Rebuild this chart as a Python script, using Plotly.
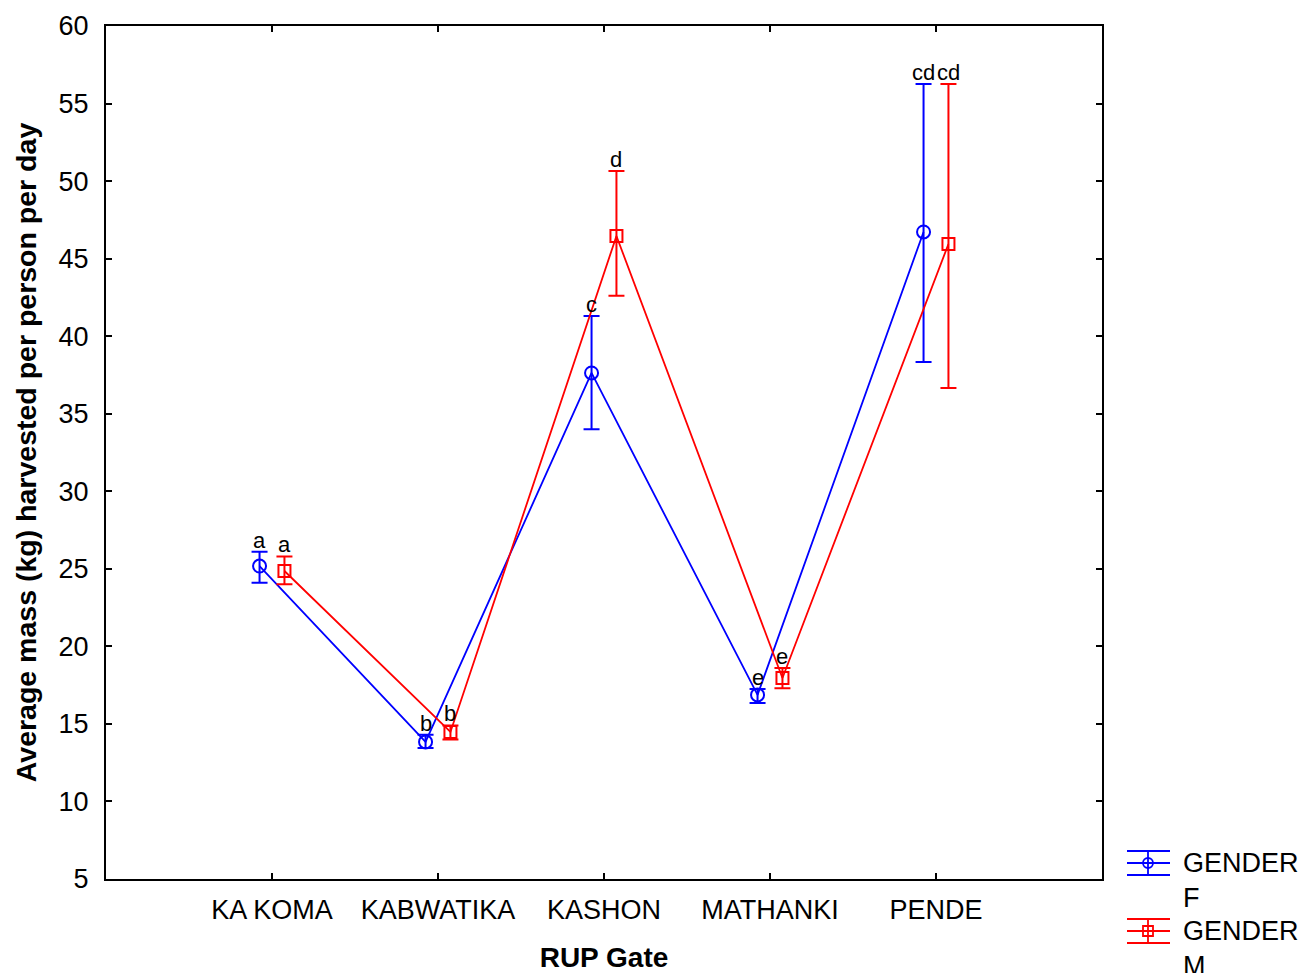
import plotly.graph_objects as go

categories = ["KA KOMA", "KABWATIKA", "KASHON", "MATHANKI", "PENDE"]
f_mean = [25.18, 13.84, 37.63, 16.87, 46.72]
f_upper = [26.1, 14.3, 41.3, 17.25, 56.26]
f_lower = [24.1, 13.45, 34.0, 16.35, 38.34]
m_mean = [24.86, 14.48, 46.46, 17.96, 45.94]
m_upper = [25.8, 14.9, 50.65, 18.6, 56.26]
m_lower = [24.0, 14.0, 42.6, 17.3, 36.66]
f_labels = ["a", "b", "c", "e", "cd"]
m_labels = ["a", "b", "d", "e", "cd"]
yticks = [5, 10, 15, 20, 25, 30, 35, 40, 45, 50, 55, 60]

FONT = "Liberation Sans, Arial, sans-serif"
BLUE = "#0000ff"
RED = "#ff0000"
off = 0.075
pos = list(range(1, len(categories) + 1))
fx = [p - off for p in pos]
mx = [p + off for p in pos]

fig = go.Figure()
fig.add_trace(go.Scatter(
    x=fx, y=f_mean, mode="lines+markers", name="GENDER F",
    line=dict(color=BLUE, width=1.8),
    marker=dict(symbol="circle-open", size=13, color=BLUE, line=dict(width=2)),
    error_y=dict(type="data", symmetric=False,
                 array=[u - m for u, m in zip(f_upper, f_mean)],
                 arrayminus=[m - l for l, m in zip(f_lower, f_mean)],
                 color=BLUE, thickness=2, width=8),
    showlegend=False))
fig.add_trace(go.Scatter(
    x=mx, y=m_mean, mode="lines+markers", name="GENDER M",
    line=dict(color=RED, width=1.8),
    marker=dict(symbol="square-open", size=12, color=RED, line=dict(width=2)),
    error_y=dict(type="data", symmetric=False,
                 array=[u - m for u, m in zip(m_upper, m_mean)],
                 arrayminus=[m - l for l, m in zip(m_lower, m_mean)],
                 color=RED, thickness=2, width=8),
    showlegend=False))

annotations = []
for xs, ys, ts in [(fx, f_upper, f_labels), (mx, m_upper, m_labels)]:
    for x, y, t in zip(xs, ys, ts):
        annotations.append(dict(x=x, y=y, text=t, showarrow=False, yanchor="bottom",
                                yshift=-2, borderpad=0,
                                font=dict(family=FONT, size=22, color="black")))

FW, FH = 1303, 973
ML, MR, MT, MB = 106, 201, 26, 94
W = FW - ML - MR
H = FH - MT - MB

def px(x):
    return (x - ML) / W

def py(y):
    return (MT + H - y) / H

shapes = []
for yc, col, sym in [(863, BLUE, "circle"), (931, RED, "rect")]:
    for dy in (-12, 0, 12):
        shapes.append(dict(type="line", xref="paper", yref="paper",
                           x0=px(1127), x1=px(1170), y0=py(yc + dy), y1=py(yc + dy),
                           line=dict(color=col, width=1.8)))
    shapes.append(dict(type="line", xref="paper", yref="paper",
                       x0=px(1148), x1=px(1148), y0=py(yc - 12), y1=py(yc + 12),
                       line=dict(color=col, width=1.8)))
    shapes.append(dict(type=sym, xref="paper", yref="paper",
                       x0=px(1143), x1=px(1153), y0=py(yc - 5), y1=py(yc + 5),
                       line=dict(color=col, width=1.8), fillcolor="rgba(0,0,0,0)"))
for yc, t in [(880, "GENDER<br>F"), (948, "GENDER<br>M")]:
    annotations.append(dict(xref="paper", yref="paper", x=px(1181), y=py(yc),
                            text=t, showarrow=False, xanchor="left", yanchor="middle",
                            align="left",
                            font=dict(family=FONT, size=27, color="black")))

fig.update_layout(
    width=FW, height=FH,
    margin=dict(l=ML, r=MR, t=MT, b=MB, autoexpand=False),
    paper_bgcolor="white", plot_bgcolor="white",
    font=dict(family=FONT, color="black"),
    annotations=annotations, shapes=shapes,
    xaxis=dict(range=[0, 6], tickvals=pos, ticktext=categories, automargin=False,
               ticks="inside", ticklen=6, tickcolor="black", tickwidth=2,
               showline=True, linecolor="black", linewidth=2, mirror="ticks",
               showgrid=False, zeroline=False, ticklabelstandoff=6,
               tickfont=dict(family=FONT, size=27, color="black"),
               title=dict(text="<b>RUP Gate</b>", font=dict(family=FONT, size=28, color="black"),
                          standoff=25)),
    yaxis=dict(range=[5, 60], tickvals=yticks, automargin=False,
               ticks="inside", ticklen=6, tickcolor="black", tickwidth=2,
               showline=True, linecolor="black", linewidth=2, mirror="ticks",
               showgrid=False, zeroline=False, ticklabelstandoff=10,
               tickfont=dict(family=FONT, size=27, color="black"),
               title=dict(text="<b>Average mass (kg) harvested per person per day</b>",
                          font=dict(family=FONT, size=28.5, color="black"), standoff=14)),
)

fig.write_html(
    "out.html",
    config={"displayModeBar": False},
    post_script="document.body.style.margin='0';document.body.style.overflow='hidden';",
)
